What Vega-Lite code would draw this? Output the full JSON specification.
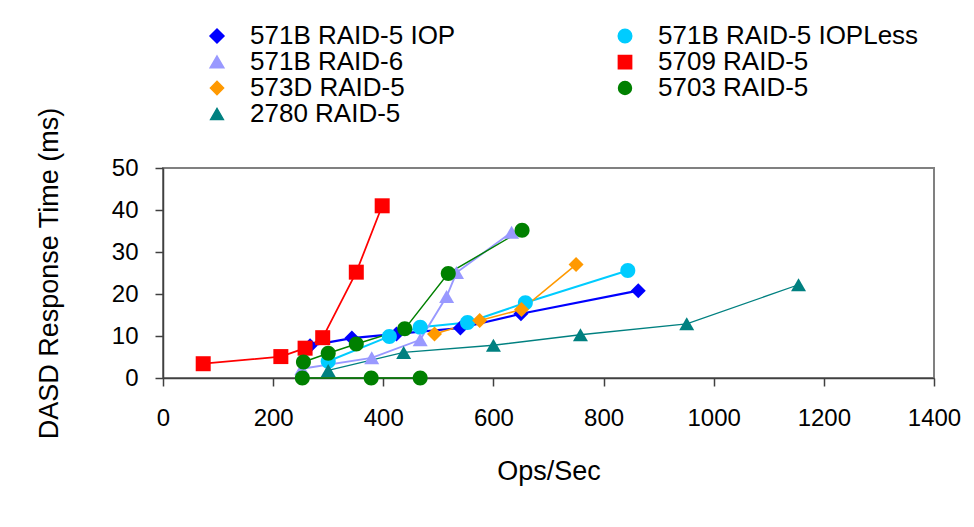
{
  "$schema": "https://vega.github.io/schema/vega-lite/v6.json",
  "autosize": "none",
  "width": 771,
  "height": 210,
  "padding": {"left": 163, "top": 168, "right": 40, "bottom": 149},
  "background": "white",
  "config": {
    "font": "Liberation Sans",
    "view": {"stroke": "#808080", "strokeWidth": 2},
    "axis": {
      "grid": false,
      "domainColor": "#404040",
      "domainWidth": 1.5,
      "tickColor": "#404040",
      "tickWidth": 1.5,
      "tickSize": 8,
      "labelFont": "Liberation Sans",
      "labelFontSize": 24,
      "labelColor": "#000000",
      "titleFont": "Liberation Sans",
      "titleFontSize": 27,
      "titleFontWeight": "normal",
      "titleColor": "#000000"
    }
  },
  "data": {
    "values": [
      {"series": "571B RAID-5 IOP", "run": "a", "ops": 267, "rt": 7.7},
      {"series": "571B RAID-5 IOP", "run": "a", "ops": 343, "rt": 9.5},
      {"series": "571B RAID-5 IOP", "run": "a", "ops": 424, "rt": 10.5},
      {"series": "571B RAID-5 IOP", "run": "a", "ops": 540, "rt": 11.9},
      {"series": "571B RAID-5 IOP", "run": "a", "ops": 650, "rt": 15.3},
      {"series": "571B RAID-5 IOP", "run": "a", "ops": 863, "rt": 20.8},
      {"series": "571B RAID-5 IOPLess", "run": "a", "ops": 300, "rt": 4.0},
      {"series": "571B RAID-5 IOPLess", "run": "a", "ops": 411, "rt": 9.9},
      {"series": "571B RAID-5 IOPLess", "run": "a", "ops": 467, "rt": 12.1},
      {"series": "571B RAID-5 IOPLess", "run": "a", "ops": 553, "rt": 13.2},
      {"series": "571B RAID-5 IOPLess", "run": "a", "ops": 658, "rt": 17.9},
      {"series": "571B RAID-5 IOPLess", "run": "a", "ops": 844, "rt": 25.6},
      {"series": "571B RAID-6", "run": "a", "ops": 252, "rt": 2.2},
      {"series": "571B RAID-6", "run": "a", "ops": 379, "rt": 4.8},
      {"series": "571B RAID-6", "run": "a", "ops": 467, "rt": 9.1},
      {"series": "571B RAID-6", "run": "a", "ops": 515, "rt": 19.4},
      {"series": "571B RAID-6", "run": "a", "ops": 533, "rt": 25.1},
      {"series": "571B RAID-6", "run": "a", "ops": 633, "rt": 34.7},
      {"series": "5709 RAID-5", "run": "a", "ops": 73, "rt": 3.4},
      {"series": "5709 RAID-5", "run": "a", "ops": 214, "rt": 5.1},
      {"series": "5709 RAID-5", "run": "a", "ops": 258, "rt": 7.1},
      {"series": "5709 RAID-5", "run": "a", "ops": 290, "rt": 9.6},
      {"series": "5709 RAID-5", "run": "a", "ops": 351, "rt": 25.2},
      {"series": "5709 RAID-5", "run": "a", "ops": 398, "rt": 41.0},
      {"series": "573D RAID-5", "run": "a", "ops": 493, "rt": 10.5},
      {"series": "573D RAID-5", "run": "a", "ops": 575, "rt": 13.7},
      {"series": "573D RAID-5", "run": "a", "ops": 651, "rt": 16.3},
      {"series": "573D RAID-5", "run": "a", "ops": 750, "rt": 27.0},
      {"series": "5703 RAID-5", "run": "a", "ops": 255, "rt": 3.8},
      {"series": "5703 RAID-5", "run": "a", "ops": 300, "rt": 5.9},
      {"series": "5703 RAID-5", "run": "a", "ops": 351, "rt": 8.1},
      {"series": "5703 RAID-5", "run": "a", "ops": 439, "rt": 11.7},
      {"series": "5703 RAID-5", "run": "a", "ops": 518, "rt": 24.9},
      {"series": "5703 RAID-5", "run": "a", "ops": 652, "rt": 35.2},
      {"series": "5703 RAID-5", "run": "b", "ops": 253, "rt": 0},
      {"series": "5703 RAID-5", "run": "b", "ops": 378, "rt": 0},
      {"series": "5703 RAID-5", "run": "b", "ops": 467, "rt": 0},
      {"series": "2780 RAID-5", "run": "a", "ops": 300, "rt": 1.8},
      {"series": "2780 RAID-5", "run": "a", "ops": 437, "rt": 6.1},
      {"series": "2780 RAID-5", "run": "a", "ops": 600, "rt": 7.8},
      {"series": "2780 RAID-5", "run": "a", "ops": 758, "rt": 10.3},
      {"series": "2780 RAID-5", "run": "a", "ops": 951, "rt": 12.9},
      {"series": "2780 RAID-5", "run": "a", "ops": 1154, "rt": 22.2}
    ]
  },
  "encoding": {
    "x": {
      "field": "ops", "type": "quantitative",
      "scale": {"domain": [0, 1400], "nice": false, "zero": false},
      "axis": {"values": [0, 200, 400, 600, 800, 1000, 1200, 1400], "format": "d", "title": "Ops/Sec", "labelPadding": 20, "titlePadding": 28, "labelFlush": false}
    },
    "y": {
      "field": "rt", "type": "quantitative",
      "scale": {"domain": [0, 50], "nice": false},
      "axis": {"values": [0, 10, 20, 30, 40, 50], "title": "DASD Response Time (ms)", "labelPadding": 17, "titlePadding": 48, "labelFlush": false}
    }
  },
  "layer": [
    {
      "mark": {"type": "line", "clip": false},
      "encoding": {
        "color": {
          "field": "series", "type": "nominal",
          "scale": {
            "domain": ["571B RAID-5 IOP", "571B RAID-5 IOPLess", "571B RAID-6", "5709 RAID-5", "573D RAID-5", "5703 RAID-5", "2780 RAID-5"],
            "range": ["#0000FF", "#00CCFF", "#9999FF", "#FF0000", "#FF9900", "#008000", "#008080"]
          },
          "legend": {
            "title": null,
            "orient": "none",
            "legendX": 41,
            "legendY": -145,
            "direction": "horizontal",
            "columns": 2,
            "columnPadding": 156,
            "rowPadding": 0,
            "padding": 0,
            "labelFont": "Liberation Sans",
            "labelFontSize": 26,
            "labelColor": "#000000",
            "labelOffset": 20,
            "labelLimit": 400,
            "symbolSize": 169,
            "encoding": {
              "symbols": {
                "shape": {"value": {"expr": "scale('shape', datum.value) + 'M-3.85,0H3.85'"}},
                "fill": {"value": {"expr": "scale('color', datum.value)"}},
                "stroke": {"value": {"expr": "scale('color', datum.value)"}},
                "strokeWidth": {"value": {"expr": "scale('strokeWidth', datum.value)"}},
                "opacity": {"value": 1}
              }
            }
          }
        },
        "strokeWidth": {
          "field": "series", "type": "nominal",
          "scale": {
            "domain": ["571B RAID-5 IOP", "571B RAID-5 IOPLess", "571B RAID-6", "5709 RAID-5", "573D RAID-5", "5703 RAID-5", "2780 RAID-5"],
            "range": [2.2, 1.3, 1.3, 2, 2, 2, 1.3]
          },
          "legend": null
        },
        "detail": {"field": "run", "type": "nominal"}
      }
    },
    {
      "mark": {"type": "point", "filled": true, "opacity": 1, "size": 225, "clip": false},
      "encoding": {
        "color": {"field": "series", "type": "nominal"},
        "shape": {
          "field": "series", "type": "nominal",
          "scale": {
            "domain": ["571B RAID-5 IOP", "571B RAID-5 IOPLess", "571B RAID-6", "5709 RAID-5", "573D RAID-5", "5703 RAID-5", "2780 RAID-5"],
            "range": [
              "M-1,0L0,-1L1,0L0,1Z",
              "M-1,0A1,1,0,1,1,1,0A1,1,0,1,1,-1,0Z",
              "M0,-0.866L1,0.866L-1,0.866Z",
              "M-1,-1L1,-1L1,1L-1,1Z",
              "M-1,0L0,-1L1,0L0,1Z",
              "M-1,0A1,1,0,1,1,1,0A1,1,0,1,1,-1,0Z",
              "M0,-0.866L1,0.866L-1,0.866Z"
            ]
          },
          "legend": null
        }
      }
    }
  ]
}
